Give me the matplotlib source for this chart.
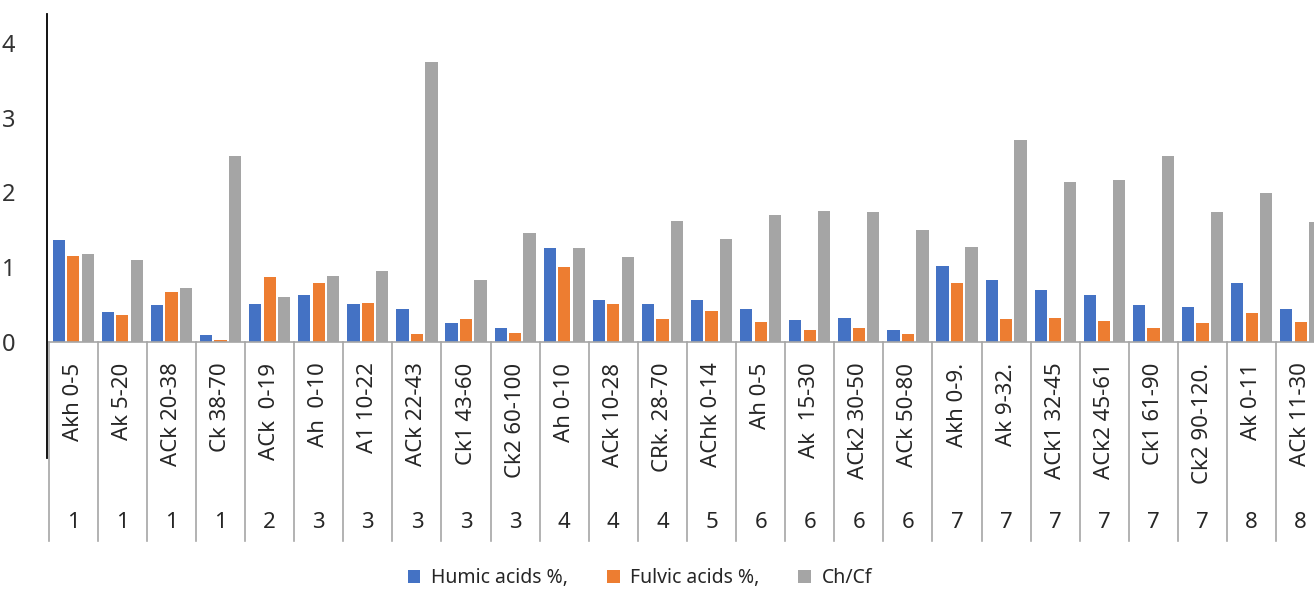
import matplotlib
matplotlib.use("Agg")
import matplotlib.pyplot as plt
import numpy as np

plt.rcParams['font.family'] = ['Noto Sans', 'DejaVu Sans']

horizons = ["Akh 0-5", "Ak 5-20", "ACk 20-38", "Ck 38-70", "ACk  0-19", "Ah  0-10",
            "A1 10-22", "ACk 22-43", "Ck1 43-60", "Ck2 60-100", "Ah 0-10", "ACk 10-28",
            "CRk. 28-70", "AChk 0-14", "Ah 0-5", "Ak  15-30", "ACk2 30-50", "ACk 50-80",
            "Akh 0-9.", "Ak 9-32.", "ACk1 32-45", "ACk2 45-61", "Ck1 61-90", "Ck2 90-120.",
            "Ak 0-11", "ACk 11-30"]
profiles = ["1", "1", "1", "1", "2", "3", "3", "3", "3", "3", "4", "4", "4", "5",
            "6", "6", "6", "6", "7", "7", "7", "7", "7", "7", "8", "8"]

humic = [1.37, 0.40, 0.50, 0.10, 0.51, 0.63, 0.51, 0.45, 0.26, 0.19, 1.26, 0.57, 0.51,
         0.57, 0.45, 0.30, 0.325, 0.17, 1.015, 0.83, 0.70, 0.63, 0.50, 0.47, 0.79, 0.445]
fulvic = [1.15, 0.37, 0.67, 0.035, 0.87, 0.79, 0.53, 0.115, 0.31, 0.13, 1.00, 0.51, 0.315,
          0.42, 0.27, 0.165, 0.19, 0.115, 0.79, 0.31, 0.325, 0.285, 0.19, 0.26, 0.39, 0.275]
ratio = [1.18, 1.10, 0.725, 2.49, 0.60, 0.88, 0.95, 3.74, 0.83, 1.455, 1.26, 1.135, 1.62,
         1.375, 1.695, 1.75, 1.735, 1.495, 1.27, 2.70, 2.14, 2.16, 2.49, 1.735, 1.99, 1.60]

series = [("Humic acids %,", humic, "#4472C4"),
          ("Fulvic acids %,", fulvic, "#ED7D31"),
          ("Ch/Cf", ratio, "#A5A5A5")]

W, H = 1314, 589
fig = plt.figure(figsize=(W / 100, H / 100), dpi=100)
# axes run a little past the right edge, so the last group is cut off
ax = fig.add_axes([48.7 / W, (H - 342.3) / H, 1276.6 / W, 329.6 / H])

x = np.arange(len(horizons))
step = 0.295
width = 0.25
for k, (name, vals, col) in enumerate(series):
    ax.bar(x + (k - 1) * step, vals, width, color=col, label=name, zorder=2)

ax.set_xlim(-0.5, len(horizons) - 0.5)
ax.set_ylim(0, 4.4)
ax.set_yticks([0, 1, 2, 3, 4])
ax.tick_params(axis='y', length=0, pad=24, labelsize=17, labelcolor="#333333")
ax.set_xticks([])
for s in ["top", "right", "left"]:
    ax.spines[s].set_visible(False)
ax.spines["bottom"].set_color("#a6a6a6")
ax.spines["bottom"].set_linewidth(1.2)

# two-level category axis: separators, horizon names, profile numbers
for b in np.arange(-0.5, len(horizons) + 0.5, 1.0):
    ax.plot([b, b], [0, -2.65], color="#a6a6a6", lw=1.2, clip_on=False, zorder=1)
for i in x:
    ax.text(i, -0.27, horizons[i], rotation=90, ha="center", va="top",
            fontsize=16, color="#262626", clip_on=False)
    ax.text(i, -2.41, profiles[i], ha="center", va="center",
            fontsize=16, color="#262626", clip_on=False)

# black vertical rule at the left
ax.plot([-0.535, -0.535], [4.38, -1.545], color="black", lw=1.3, clip_on=False)

fig.legend(loc="center", bbox_to_anchor=(640 / W, 1 - 578 / H), ncol=3, frameon=False,
           fontsize=14, handlelength=0.65, handleheight=0.65, handletextpad=0.55,
           columnspacing=2.0, labelcolor="#262626")

fig.savefig("out.png", dpi=100)
